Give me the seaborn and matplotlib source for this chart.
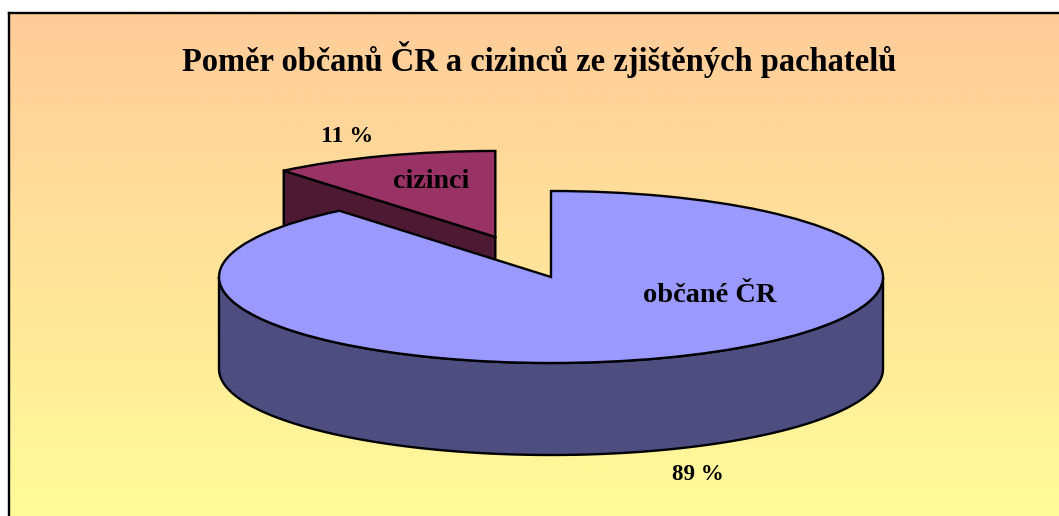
import numpy as np
import matplotlib
matplotlib.use('Agg')
import matplotlib.pyplot as plt
import seaborn as sns

# data
categories = ['občané ČR', 'cizinci']
shares = [89, 11]
share_labels = ['89 %', '11 %']
title_text = 'Poměr občanů ČR a cizinců ze zjištěných pachatelů'

top_colors = ['#9999FF', '#993366']
side_colors = ['#4D4D80', '#4D1933']

W, H = 1059, 516
CX, CY = 551, 277      # pie centre in pixels
RX, RY = 332, 86       # ellipse radii in pixels
DEPTH = 92 / RY        # thickness in data units
LW = 1.7

sns.set_theme(style='white')
plt.rcParams['font.family'] = ['Liberation Serif', 'DejaVu Serif']


def px(x, y):
    # pixel position of the picture -> data units of the pie axes
    return (x - CX) / RX, (CY - y) / RY


def add_label(x, y, text, size):
    ax.text(*px(x, y), text, fontsize=size, fontweight='bold', color='black',
            ha='center', va='center', zorder=10)


fig = plt.figure(figsize=(W / 100, H / 100), dpi=100, facecolor='white')
ax = fig.add_axes([9 / W, 0, (W - 9) / W, (H - 13) / H])

# background gradient, peach at the top to pale yellow at the bottom
x0, y_top = px(9, 13)
x1, y_bot = px(W, H)
gradient = sns.blend_palette(['#FFCC99', '#FFFB99'], n_colors=64)
ax.imshow(np.array(gradient)[:, None, :], extent=(x0, x1, y_bot, y_top), aspect='auto',
          origin='upper', zorder=0, interpolation='bilinear')

# explode is relative to the radius, so the pie is an ellipse in these units
wedges, _ = ax.pie(shares, startangle=90, counterclock=False, explode=[0, 0.495],
                   colors=top_colors, frame=True,
                   wedgeprops=dict(edgecolor='black', linewidth=LW, joinstyle='miter'))
main, small = wedges
main.set_zorder(4)
small.set_zorder(2)

# side wall of the large slice (front half of the rim)
start = max(main.theta1, -180)
stop = min(main.theta2, 0)
theta = np.radians(np.linspace(start, stop, 200))
rim_x = main.center[0] + np.cos(theta)
rim_y = main.center[1] + np.sin(theta)
ax.fill(np.r_[rim_x, rim_x[::-1]], np.r_[rim_y, rim_y[::-1] - DEPTH],
        facecolor=side_colors[0], edgecolor='black', linewidth=LW, zorder=3)

# cut face of the small slice, the large slice covers its lower part
cut = np.radians(small.theta2)
sx, sy = small.center
ex, ey = sx + np.cos(cut), sy + np.sin(cut)
ax.fill([sx, ex, ex, sx], [sy, ey, ey - DEPTH, sy - DEPTH],
        facecolor=side_colors[1], edgecolor='black', linewidth=LW, zorder=1)

ax.set_aspect('auto')
ax.set_xlim(x0, x1)
ax.set_ylim(y_bot, y_top)
ax.set_xticks([])
ax.set_yticks([])

ax.set_frame_on(True)
for name, spine in ax.spines.items():
    spine.set_visible(name in ('left', 'top'))
    spine.set_color('black')
    spine.set_linewidth(LW)

ax.text(*px(539, 60), title_text, fontsize=23.45, fontweight='bold', color='black',
        ha='center', va='center', zorder=10)
add_label(709.5, 296, categories[0], 20.4)
add_label(431.5, 182, categories[1], 20.2)
add_label(697.5, 474, share_labels[0], 16.6)
add_label(347, 137, share_labels[1], 17.2)

fig.savefig('out.png', dpi=100)
